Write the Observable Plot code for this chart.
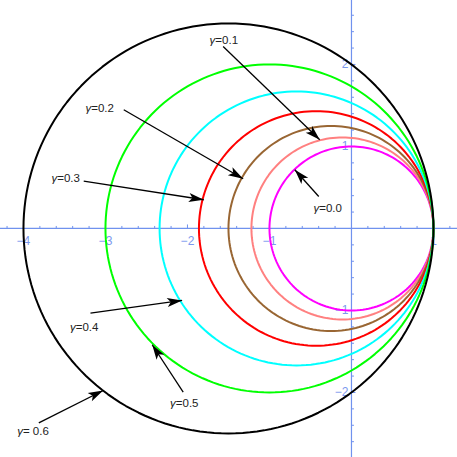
<!DOCTYPE html>
<html><head><meta charset="utf-8">
<script src="https://cdn.jsdelivr.net/npm/d3@7"></script>
<script src="https://cdn.jsdelivr.net/npm/@observablehq/plot@0.6"></script>
<style>body{margin:0;background:#fff} svg{display:block}</style>
</head><body><div id="chart"></div>
<script>
// Circle family: gamma, centre on the x axis, radius, colour
const gammas  = [0.0, 0.1, 0.2, 0.3, 0.4, 0.5, 0.6];
const centers = [0.0, -0.11, -0.25, -0.43, -0.67, -1.0, -1.5];
const radii   = [1.0, 1.11, 1.25, 1.43, 1.67, 2.0, 2.5];
const colors  = ["#ff00ff", "#ff8080", "#996633", "#ff0000", "#00ffff", "#00ff00", "#000000"];

// Tick labels
const xTicks = [-4, -3, -2, -1, 1];
const yTicks = [-2, -1, 1, 2];

// Annotations
const labelText = ["γ=0.0", "γ=0.1", "γ=0.2", "γ=0.3", "γ=0.4", "γ=0.5", "γ= 0.6"];
const labelX = [-0.290, -1.557, -3.071, -3.485, -3.259, -2.039, -3.884];
const labelY = [0.240, 2.293, 1.463, 0.610, -1.204, -2.130, -2.472];
const arrowFromX = [-0.399, -1.565, -2.777, -3.265, -3.183, -2.052, -3.813];
const arrowFromY = [0.390, 2.220, 1.448, 0.577, -1.033, -1.996, -2.370];
const arrowToX = [-0.691, -0.387, -1.321, -1.801, -2.065, -2.430, -3.028];
const arrowToY = [0.716, 1.082, 0.606, 0.350, -0.878, -1.418, -1.976];

// ---- build tables ----
const circlePts = [];
gammas.forEach((g, i) => {
  for (let a = 0; a <= 360; a += 2) {
    const t = a * Math.PI / 180;
    circlePts.push({g, x: centers[i] + radii[i] * Math.cos(t), y: radii[i] * Math.sin(t), c: colors[i]});
  }
});
const arrows = gammas.map((g, i) => ({
  x1: arrowFromX[i], y1: arrowFromY[i], x2: arrowToX[i], y2: arrowToY[i],
  rot: Math.atan2(arrowToX[i] - arrowFromX[i], arrowToY[i] - arrowFromY[i]) * 180 / Math.PI
}));
const labels = labelText.map((t, i) => ({t, x: labelX[i], y: labelY[i]}));

const minorX = d3.range(-4.2, 1.3, 0.2).map(v => +v.toFixed(1)).filter(v => Math.abs(v - Math.round(v)) > 1e-6);
const minorY = d3.range(-2.6, 2.7, 0.2).map(v => +v.toFixed(1)).filter(v => Math.abs(v - Math.round(v)) > 1e-6);

const tickSym = (len) => ({draw(ctx) { ctx.moveTo(0, 0); ctx.lineTo(0, -len); }});
const head = {draw(ctx) { ctx.moveTo(0, 0); ctx.lineTo(4.6, 15); ctx.lineTo(0, 11.5); ctx.lineTo(-4.6, 15); ctx.closePath(); }};

const axisColor = "#7092ee";
const fmt = d => d < 0 ? "\u2212" + Math.abs(d) : String(d);

const plot = Plot.plot({
  width: 457, height: 457, margin: 0,
  style: {fontFamily: "'Liberation Sans', Arial, sans-serif", background: "#fff"},
  x: {domain: [-4.28, 1.293], axis: null},
  y: {domain: [-2.793, 2.78], axis: null},
  marks: [
    Plot.ruleY([0], {stroke: axisColor, strokeWidth: 1.2}),
    Plot.ruleX([0], {stroke: axisColor, strokeWidth: 1.2}),
    Plot.dot(minorX, {x: d => d, y: 0, symbol: tickSym(2.5), fill: "none", stroke: axisColor, strokeWidth: 1}),
    Plot.dot(xTicks, {x: d => d, y: 0, symbol: tickSym(4), fill: "none", stroke: axisColor, strokeWidth: 1}),
    Plot.dot(minorY, {x: 0, y: d => d, symbol: tickSym(2.5), rotate: 90, fill: "none", stroke: axisColor, strokeWidth: 1}),
    Plot.dot(yTicks, {x: 0, y: d => d, symbol: tickSym(4), rotate: 90, fill: "none", stroke: axisColor, strokeWidth: 1}),
    Plot.text(xTicks, {x: d => d, y: 0, text: fmt, dy: 13, fill: "#7b98ee", fontSize: 12}),
    Plot.text(yTicks, {x: 0, y: d => d, text: fmt, dx: -3, textAnchor: "end", fill: "#7b98ee", fontSize: 12}),
    Plot.line(circlePts, {x: "x", y: "y", z: "g", stroke: "c", strokeWidth: 2, curve: "linear"}),
    Plot.link(arrows, {x1: "x1", y1: "y1", x2: "x2", y2: "y2", stroke: "black", strokeWidth: 1.3}),
    Plot.dot(arrows, {x: "x2", y: "y2", rotate: "rot", symbol: head, fill: "black", stroke: "none"}),
    Plot.text(labels, {x: "x", y: "y", text: "t", fill: "#222", fontSize: 11.5, className: "glabel"})
  ]
});
// italicise the Greek gamma, keeping all text as real text
d3.select(plot).selectAll("g.glabel text").each(function() {
  const s = this.textContent;
  if (s.startsWith("γ")) {
    const el = d3.select(this);
    el.text(null);
    el.append("tspan").attr("font-style", "italic").text("γ");
    el.append("tspan").text(s.slice(1));
  }
});
document.getElementById("chart").appendChild(plot);
</script>
</body></html>
